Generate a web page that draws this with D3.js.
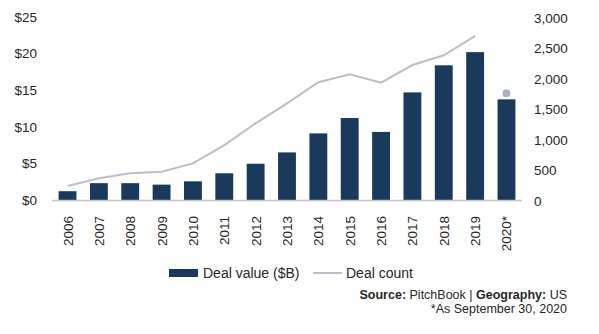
<!DOCTYPE html>
<html>
<head>
<meta charset="utf-8">
<script src="https://cdn.jsdelivr.net/npm/d3@7"></script>
<style>
  body { margin: 0; background: #fff; }
  text { font-family: "Liberation Sans", Arial, sans-serif; fill: #262626; }
</style>
</head>
<body>
<div id="chart"></div>
<script>
// data
var years = ["2006", "2007", "2008", "2009", "2010", "2011", "2012", "2013",
             "2014", "2015", "2016", "2017", "2018", "2019", "2020*"];
var dealValue = [1.2, 2.3, 2.3, 2.1, 2.55, 3.65, 4.95, 6.5,
                 9.1, 11.2, 9.3, 14.7, 18.4, 20.2, 13.75];
var dealCount = [230, 355, 437, 464, 600, 900, 1257, 1585,
                 1930, 2060, 1923, 2213, 2372, 2689, 1750];
var valueTicks = [0, 5, 10, 15, 20, 25];
var countTicks = [0, 500, 1000, 1500, 2000, 2500, 3000];

var W = 599, H = 334;
var margin = { left: 52, right: 77, top: 17, bottom: 134 };

var svg = d3.select("#chart")
    .append("svg")
    .attr("width", W)
    .attr("height", H);

var x = d3.scaleBand()
    .domain(years)
    .range([margin.left, W - margin.right])
    .paddingInner(0.43)
    .paddingOuter(0.21);

var yVal = d3.scaleLinear().domain([0, 25]).range([H - margin.bottom, margin.top]);
var yCnt = d3.scaleLinear().domain([0, 3000]).range([H - margin.bottom, margin.top]);

// bars
svg.selectAll("rect.bar")
    .data(years)
    .enter()
    .append("rect")
    .attr("class", "bar")
    .attr("x", function (d) { return x(d); })
    .attr("width", x.bandwidth())
    .attr("y", function (d, i) { return yVal(dealValue[i]); })
    .attr("height", function (d, i) { return yVal(0) - yVal(dealValue[i]); })
    .attr("fill", "#193a5a");

// baseline
svg.append("line")
    .attr("x1", margin.left)
    .attr("x2", W - margin.right)
    .attr("y1", yVal(0) + 0.5)
    .attr("y2", yVal(0) + 0.5)
    .attr("stroke", "#c4c4c4")
    .attr("stroke-width", 1.5);

// deal count line (through 2019), 2020 shown as a dot
var line = d3.line()
    .x(function (d) { return x(d.year) + x.bandwidth() / 2; })
    .y(function (d) { return yCnt(d.count); });

var lineData = years.slice(0, 14).map(function (y, i) { return { year: y, count: dealCount[i] }; });

svg.append("path")
    .datum(lineData)
    .attr("d", line)
    .attr("fill", "none")
    .attr("stroke", "#b9bfca")
    .attr("stroke-width", 2);

svg.append("circle")
    .attr("cx", x(years[14]) + x.bandwidth() / 2)
    .attr("cy", yCnt(dealCount[14]))
    .attr("r", 4)
    .attr("fill", "#a9b2c3");

// left axis labels
svg.selectAll("text.yl")
    .data(valueTicks)
    .enter()
    .append("text")
    .attr("class", "yl")
    .attr("x", 37)
    .attr("y", function (d) { return yVal(d); })
    .attr("dy", "0.35em")
    .attr("text-anchor", "end")
    .style("font-size", "13.5px")
    .text(function (d) { return "$" + d; });

// right axis labels
svg.selectAll("text.yr")
    .data(countTicks)
    .enter()
    .append("text")
    .attr("class", "yr")
    .attr("x", 534)
    .attr("y", function (d) { return yCnt(d) + 1; })
    .attr("dy", "0.35em")
    .attr("text-anchor", "start")
    .style("font-size", "13.5px")
    .text(function (d) { return d3.format(",")(d); });

// year labels, rotated
svg.selectAll("text.xl")
    .data(years)
    .enter()
    .append("text")
    .attr("class", "xl")
    .attr("transform", function (d) {
        return "translate(" + (x(d) + x.bandwidth() / 2 + 5) + "," + 216 + ") rotate(-90)";
    })
    .attr("text-anchor", "end")
    .style("font-size", "13.5px")
    .text(function (d) { return d; });

// legend
var leg = svg.append("g");
leg.append("rect")
    .attr("x", 169).attr("y", 269)
    .attr("width", 29).attr("height", 8)
    .attr("fill", "#193a5a");
leg.append("text")
    .attr("x", 203).attr("y", 278)
    .style("font-size", "14px")
    .text("Deal value ($B)");
leg.append("line")
    .attr("x1", 313).attr("x2", 342)
    .attr("y1", 273).attr("y2", 273)
    .attr("stroke", "#b9bfca")
    .attr("stroke-width", 2);
leg.append("text")
    .attr("x", 346).attr("y", 278)
    .style("font-size", "14px")
    .text("Deal count");

// source note
var src = svg.append("text")
    .attr("x", 567).attr("y", 299)
    .attr("text-anchor", "end")
    .style("font-size", "12.5px");
src.append("tspan").style("font-weight", "bold").text("Source: ");
src.append("tspan").text("PitchBook | ");
src.append("tspan").style("font-weight", "bold").text("Geography: ");
src.append("tspan").text("US");

svg.append("text")
    .attr("x", 567).attr("y", 313)
    .attr("text-anchor", "end")
    .style("font-size", "12.5px")
    .text("*As September 30, 2020");
</script>
</body>
</html>
